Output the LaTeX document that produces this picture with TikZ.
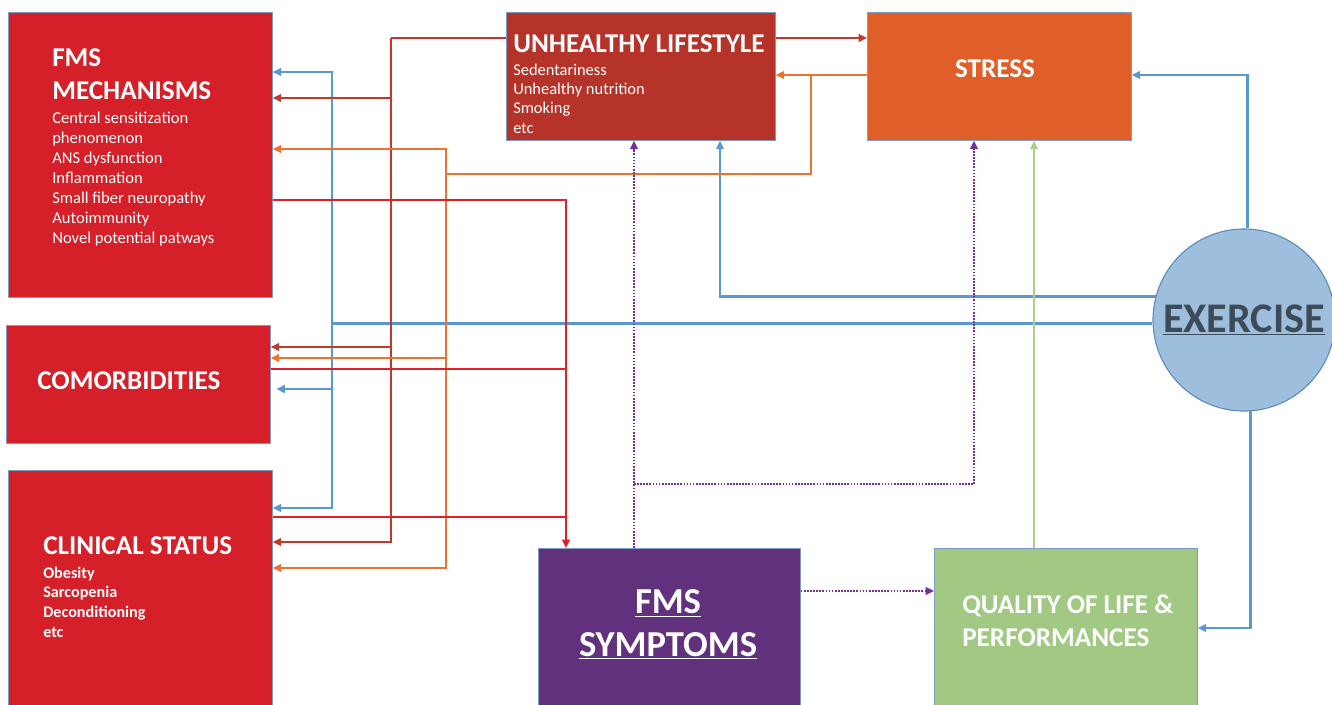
\documentclass[tikz,border=0pt]{standalone}
\usepackage{fontspec}
\setmainfont{Carlito}
\usetikzlibrary{arrows.meta}
\definecolor{mechred}{HTML}{D52029}
\definecolor{lifered}{HTML}{B6332A}
\definecolor{stressor}{HTML}{E05E27}
\definecolor{symppurp}{HTML}{62317E}
\definecolor{qolgreen}{HTML}{A1C983}
\definecolor{exfill}{HTML}{9DBEDC}
\definecolor{exline}{HTML}{5E8CBE}
\definecolor{extext}{HTML}{3D4A57}
\definecolor{boxline}{HTML}{7F9CC4}
\definecolor{lnblue}{HTML}{5B97D1}
\definecolor{lndark}{HTML}{C0392B}
\definecolor{lnorange}{HTML}{EC722D}
\definecolor{lnred}{HTML}{E01F26}
\definecolor{lnpurple}{HTML}{7030A0}
\definecolor{lngreen}{HTML}{A9D18E}

\begin{document}
\begin{tikzpicture}[x=0.025cm, y=-0.025cm,
    box/.style={draw=boxline, line width=0.5pt, inner sep=0pt, anchor=north west},
    head/.style={text=white, font=\bfseries\fontsize{19.3}{22.8}\selectfont, anchor=base west, align=left, inner sep=0pt},
    list/.style={text=white, font=\fontsize{11.8}{14.2}\selectfont, anchor=base west, align=left, inner sep=0pt},
    tip/.style={-{Triangle[length=6pt,width=5.5pt]}},
    blue/.style={draw=lnblue, line width=2.1pt},
    dark/.style={draw=lndark, line width=1.4pt},
    orange/.style={draw=lnorange, line width=1.4pt},
    red/.style={draw=lnred, line width=2.1pt},
    purple/.style={draw=lnpurple, line width=1.4pt, dash pattern=on 1.2pt off 1pt},
    green/.style={draw=lngreen, line width=1pt}]
  \useasboundingbox (0,0) rectangle (1332,704);

  % boxes
  \node[box, fill=mechred, minimum width=6.6cm, minimum height=7.125cm] (mech) at (8,12) {};
  \node[box, fill=mechred, minimum width=6.6cm, minimum height=2.95cm] (comorb) at (6,325) {};
  \node[box, fill=mechred, minimum width=6.6cm, minimum height=6cm] (clin) at (8,470) {};
  \node[box, fill=lifered, minimum width=6.725cm, minimum height=3.2cm] (life) at (506,12) {};
  \node[box, fill=stressor, minimum width=6.6cm, minimum height=3.2cm] (stress) at (867,12) {};
  \node[box, fill=symppurp, minimum width=6.55cm, minimum height=4cm] (symp) at (538,548) {};
  \node[box, fill=qolgreen, minimum width=6.575cm, minimum height=4cm] (qol) at (934,548) {};
  \node[circle, draw=exline, line width=0.8pt, fill=exfill, minimum size=4.55cm, inner sep=0pt,
        text=extext, font=\bfseries\fontsize{30}{36}\selectfont] (ex) at (1244,320) {\underline{EXERCISE}};

  % texts (base = last line)
  \node[head] (mechhead) at (52,99) {FMS\\MECHANISMS};
  \node[list] (mechlist) at (52,243) {Central sensitization\\phenomenon\\ANS dysfunction\\Inflammation\\Small fiber neuropathy\\Autoimmunity\\Novel potential patways};
  \node[head] (comorbhead) at (37,389) {COMORBIDITIES};
  \node[head] (clinhead) at (43,554) {CLINICAL STATUS};
  \node[list, font=\bfseries\fontsize{11.5}{13.9}\selectfont] (clinlist) at (43,637) {Obesity\\Sarcopenia\\Deconditioning\\etc};
  \node[head] (lifehead) at (513,52) {UNHEALTHY LIFESTYLE};
  \node[list, font=\fontsize{11.7}{13.7}\selectfont] (lifelist) at (513,133) {Sedentariness\\Unhealthy nutrition\\Smoking\\etc};
  \node[head, anchor=base] (stresshead) at (995,77) {STRESS};
  \node[head, anchor=base, align=center, font=\bfseries\fontsize{26}{30}\selectfont] (symphead) at (668,656) {\underline{FMS}\\\underline{SYMPTOMS}};
  \node[head, font=\bfseries\fontsize{19.3}{22.8}\selectfont] (qolhead) at (962,646) {QUALITY OF LIFE \&\\PERFORMANCES};

  % bus points
  \coordinate (bluebus) at (ex.182 -| 332,0);
  \coordinate (darkbus) at (391,38);
  \coordinate (orbranch) at (811,75);
  \coordinate (orbus) at (446,174);
  \coordinate (redbus) at (566,200);
  \coordinate (purpbus) at (634,484);

  % exercise
  \draw[blue, tip] (ex.165) -| (life.south -| 720,0);
  \draw[blue] (ex.182) -- (bluebus);
  \draw[blue, tip] (bluebus) |- (mech.east |- 0,72);
  \draw[blue, tip] (bluebus) |- (clin.east |- 0,508);
  \draw[blue, tip, shorten >=4pt] (bluebus |- 0,389) -- (comorb.east |- 0,389);
  \draw[blue, tip] (ex.88) |- (stress.east |- 0,75);
  \draw[blue, tip] (ex.-86) |- (qol.east |- 0,628);

  % unhealthy lifestyle
  \draw[dark] (life.west |- darkbus) -- (darkbus);
  \draw[dark, tip] (darkbus) |- (mech.east |- 0,98);
  \draw[dark, tip] (darkbus) |- (comorb.east |- 0,347);
  \draw[dark, tip] (darkbus) |- (clin.east |- 0,542);
  \draw[dark, tip] (life.east |- darkbus) -- (stress.west |- darkbus);

  % stress
  \draw[orange, tip] (stress.west |- orbranch) -- (life.east |- orbranch);
  \draw[orange] (orbranch) |- (orbus);
  \draw[orange, tip] (orbus) |- (mech.east |- 0,149);
  \draw[orange, tip] (orbus) |- (comorb.east |- 0,358);
  \draw[orange, tip] (orbus) |- (clin.east |- 0,568);

  % to symptoms
  \draw[red, tip] (mech.east |- redbus) -| (symp.north -| redbus);
  \draw[red] (comorb.east |- 0,369) -- (redbus |- 0,369);
  \draw[red] (clin.east |- 0,517) -- (redbus |- 0,517);

  % from symptoms
  \draw[purple, tip] (symp.north -| purpbus) -- (life.south -| purpbus);
  \draw[purple, tip] (purpbus) -| (stress.south -| 974,0);
  \draw[purple, tip] (symp.east |- 0,591) -- (qol.west |- 0,591);
  \draw[green, tip] (qol.north -| 1034,0) -- (stress.south -| 1034,0);
\end{tikzpicture}
\end{document}
